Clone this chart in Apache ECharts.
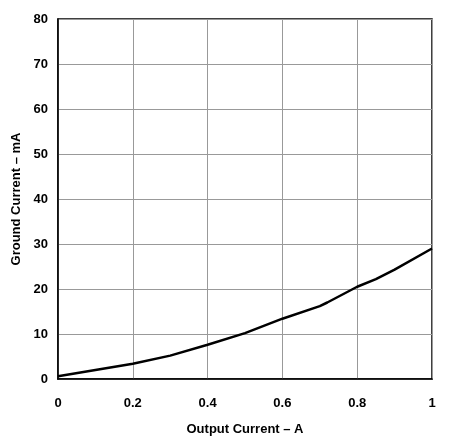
<!DOCTYPE html>
<html><head><meta charset="utf-8">
<script src="https://cdn.jsdelivr.net/npm/echarts@6/dist/echarts.min.js"></script>
<style>html,body{margin:0;padding:0;background:#fff}#c{width:451px;height:447px}</style>
</head><body><div id="c"></div>
<script>
const xValues=[0,0.1,0.2,0.3,0.4,0.5,0.6,0.7,0.72,0.8,0.85,0.9,1.0];
const yValues=[0.6,2.0,3.4,5.2,7.6,10.2,13.4,16.2,17.0,20.5,22.2,24.3,29.0];
const xTitle='Output Current – A';
const yTitle='Ground Current – mA';
const chart=echarts.init(document.getElementById('c'));
const font={fontFamily:'Liberation Sans',fontWeight:'bold',fontSize:13,color:'#000'};
chart.setOption({
 animation:false,
 grid:{left:58,right:19,top:19,bottom:68,show:true,borderColor:'#000',borderWidth:1.5},
 xAxis:{type:'value',min:0,max:1,interval:0.2,name:xTitle,nameLocation:'middle',nameGap:44,nameTextStyle:font,
  axisLabel:Object.assign({},font,{margin:18,formatter:v=>v===0||v===1?String(v):v.toFixed(1)}),
  axisLine:{lineStyle:{color:'#000',width:1.5}},axisTick:{show:false},
  splitLine:{lineStyle:{color:'#999',width:1}}},
 yAxis:{type:'value',min:0,max:80,interval:10,name:yTitle,nameLocation:'middle',nameGap:31,nameTextStyle:font,
  axisLabel:Object.assign({},font,{margin:10}),axisLine:{lineStyle:{color:'#000',width:1.5}},axisTick:{show:false},
  splitLine:{lineStyle:{color:'#999',width:1}}},
 series:[{type:'line',data:xValues.map((x,i)=>[x,yValues[i]]),showSymbol:false,
  lineStyle:{color:'#000',width:2.5}}]
});
</script></body></html>
